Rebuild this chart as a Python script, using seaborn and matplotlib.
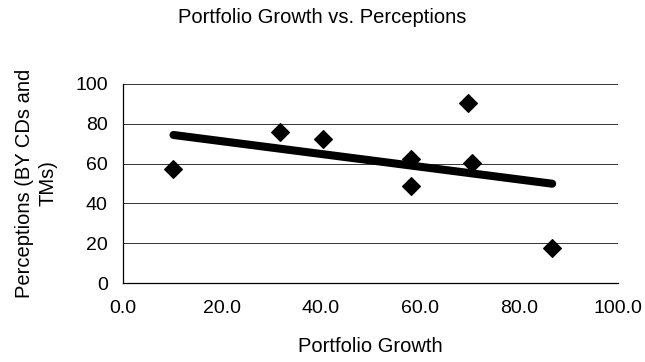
import matplotlib
matplotlib.use("Agg")
import matplotlib.pyplot as plt
import seaborn as sns
import pandas as pd

# Portfolio growth vs. perceptions (by CDs and TMs)
growth = [10.2, 31.7, 40.3, 58.2, 58.2, 69.6, 70.5, 86.7]
perception = [57.3, 76.0, 72.2, 62.5, 48.9, 90.6, 60.2, 17.4]
x_ticks = [0, 20, 40, 60, 80, 100]
y_ticks = [0, 20, 40, 60, 80, 100]

df = pd.DataFrame({"Portfolio Growth": growth, "Perceptions": perception})

sns.set_theme(style="white")
plt.rcParams["font.family"] = ["Liberation Sans", "DejaVu Sans"]

fig = plt.figure(figsize=(6.45, 3.62), dpi=100)
ax = fig.add_axes([0.1907, 0.218, 0.7675, 0.550])

ax.yaxis.grid(True, color="#333333", linewidth=0.7)
ax.set_axisbelow(True)

sns.regplot(data=df, x="Portfolio Growth", y="Perceptions", ax=ax, ci=None,
            marker="D", truncate=True,
            scatter_kws={"s": 80, "color": "black", "edgecolor": "black",
                         "alpha": 1, "zorder": 3},
            line_kws={"color": "black", "linewidth": 5.8, "solid_capstyle": "round",
                      "zorder": 2})

ax.set_xlim(0, 100)
ax.set_ylim(0, 100)
ax.set_xticks(x_ticks)
ax.set_xticklabels([f"{t:.1f}" for t in x_ticks])
ax.set_yticks(y_ticks)
ax.set_yticklabels([str(t) for t in y_ticks])

for side in ("top", "right"):
    ax.spines[side].set_visible(False)
for side in ("left", "bottom"):
    ax.spines[side].set_color("black")
    ax.spines[side].set_linewidth(0.9)

ax.tick_params(axis="both", which="major", direction="out", width=0.8,
               color="black", labelsize=14, labelcolor="black")
ax.tick_params(axis="x", length=4.5, pad=8)
ax.tick_params(axis="y", length=5, pad=6)

ax.set_xlabel("Portfolio Growth", fontsize=14.5, color="black", va="center")
ax.xaxis.set_label_coords(0.5, -0.32)
ax.set_ylabel("Perceptions (BY CDs and\nTMs)", fontsize=14.5, color="black",
              linespacing=1.3, va="center")
ax.yaxis.set_label_coords(-0.176, 0.5)

fig.suptitle("Portfolio Growth vs. Perceptions", x=0.5, y=0.953, va="center",
             fontsize=14.5, color="black")

fig.savefig("out.png", dpi=100, facecolor="white")
